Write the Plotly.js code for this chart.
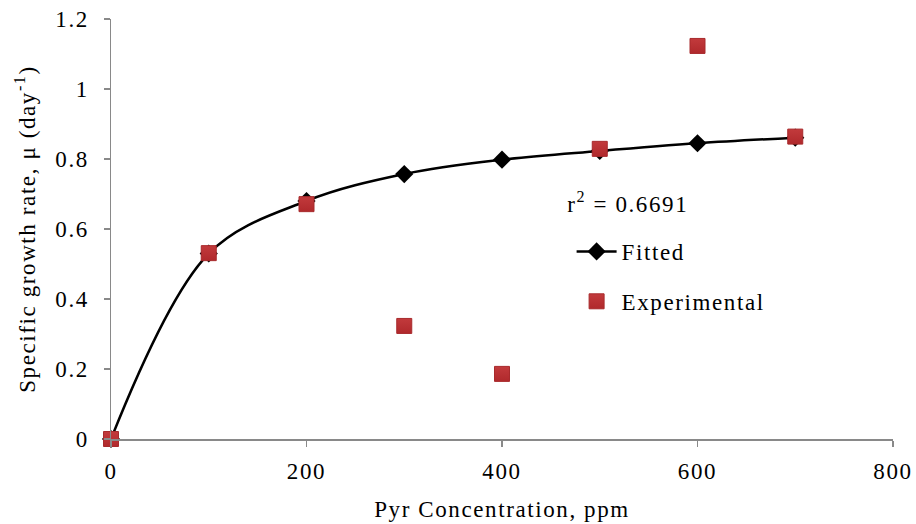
<!DOCTYPE html>
<html>
<head>
<meta charset="utf-8">
<script src="https://cdn.plot.ly/plotly-3.0.1.min.js"></script>
<style>html,body{margin:0;padding:0;background:#fff;}#chart{width:916px;height:524px;}#chart text{letter-spacing:1.6px;}#chart .legend .scrollbox{clip-path:none !important;}</style>
</head>
<body>
<div id="chart"></div>
<script>
var concentration = [0, 100, 200, 300, 400, 500, 600, 700];
var fittedRate = [0, 0.53, 0.68, 0.757, 0.798, 0.823, 0.845, 0.861];
var experimentalRate = [0, 0.531, 0.671, 0.323, 0.186, 0.829, 1.123, 0.864];
var xTicks = [0, 200, 400, 600, 800];
var yTicks = [0, 0.2, 0.4, 0.6, 0.8, 1, 1.2];
var yTickText = ['0', '0.2', '0.4', '0.6', '0.8', '1', '1.2'];

var fontFam = '"Liberation Serif", "Times New Roman", serif';
var fs = 23;

var traces = [
  {
    x: concentration, y: fittedRate, name: 'Fitted',
    type: 'scatter', mode: 'lines+markers', cliponaxis: false,
    line: {color: '#000000', width: 2.5, shape: 'spline', smoothing: 1},
    marker: {symbol: 'diamond', size: 14, color: '#000000'},
    legendgroup: 'a'
  },
  {
    x: concentration, y: experimentalRate, name: 'Experimental',
    type: 'scatter', mode: 'markers', cliponaxis: false,
    marker: {symbol: 'square', size: 15, color: '#C23A3C',
             line: {color: '#A82A2C', width: 1},
             gradient: {type: 'vertical', color: '#B0292C'}},
    legendgroup: 'b'
  }
];

var axisColor = '#898989';
var layout = {
  width: 916, height: 524,
  margin: {l: 111, r: 23, t: 19, b: 85},
  paper_bgcolor: '#ffffff', plot_bgcolor: '#ffffff',
  font: {family: fontFam, size: fs, color: '#000000'},
  showlegend: true,
  legend: {
    x: 0.589, y: 0.387, xanchor: 'left', yanchor: 'middle',
    bgcolor: 'rgba(0,0,0,0)', font: {family: fontFam, size: fs},
    traceorder: 'grouped', tracegroupgap: 17, itemwidth: 40
  },
  xaxis: {
    range: [0, 800], tickvals: xTicks, ticktext: xTicks.map(String),
    showgrid: false, zeroline: false, showline: true, linecolor: axisColor, linewidth: 1.5,
    ticks: 'outside', ticklen: 6, tickcolor: axisColor, tickwidth: 1.5,
    tickfont: {family: fontFam, size: fs}, ticklabelstandoff: 5,
    title: {text: 'Pyr Concentration, ppm', font: {family: fontFam, size: fs}, standoff: 18},
    automargin: false
  },
  yaxis: {
    range: [0, 1.2], tickvals: yTicks, ticktext: yTickText,
    showgrid: false, zeroline: false, showline: true, linecolor: axisColor, linewidth: 1.5,
    ticks: 'outside', ticklen: 6, tickcolor: axisColor, tickwidth: 1.5,
    tickfont: {family: fontFam, size: fs}, ticklabelstandoff: 10,
    title: {text: 'Specific growth rate, μ (day<sup>-1</sup>)', font: {family: fontFam, size: fs}, standoff: 18},
    automargin: false
  },
  annotations: [
    {xref: 'paper', yref: 'paper', x: 0.592, y: 0.562, xanchor: 'left', yanchor: 'middle',
     text: 'r<sup>2</sup> = 0.6691', showarrow: false, font: {family: fontFam, size: fs}}
  ]
};

Plotly.newPlot('chart', traces, layout, {displayModeBar: false, staticPlot: true});
</script>
</body>
</html>
